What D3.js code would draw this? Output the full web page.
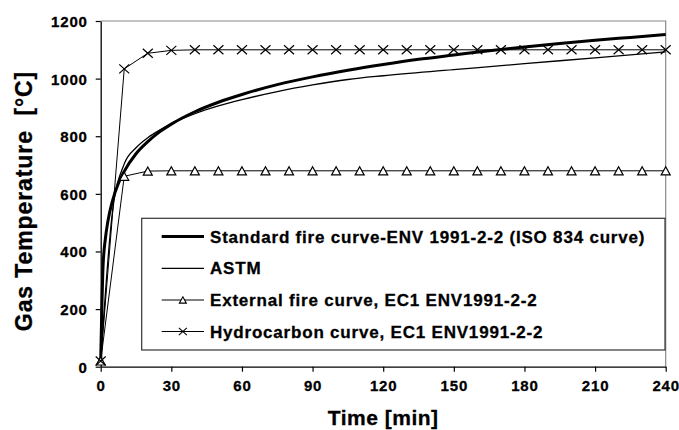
<!DOCTYPE html>
<html>
<head>
<meta charset="utf-8">
<script src="https://cdn.jsdelivr.net/npm/d3@7"></script>
<style>
  html, body { margin: 0; padding: 0; background: #fff; }
  svg { display: block; font-family: "Liberation Sans", Arial, sans-serif; font-weight: bold; }
  text { white-space: pre; }
</style>
</head>
<body>
<svg id="chart" width="679" height="430"></svg>
<script>
// ---- Data ----
const isoTime  = [0, 1, 2, 3, 5, 7.5, 10, 15, 20, 25, 30, 40, 50, 60, 75, 90, 105, 120, 135, 150, 165, 180, 195, 210, 225, 240];
const isoTemp  = [20, 349, 445, 502, 576, 636, 678, 739, 781, 815, 842, 885, 918, 945, 979, 1006, 1029, 1049, 1067, 1082, 1097, 1110, 1122, 1133, 1143, 1153];

const astmTime = [0, 5, 10, 15, 20, 25, 30, 40, 50, 60, 75, 90, 105, 120, 150, 180, 210, 240];
const astmTemp = [20, 538, 704, 760, 795, 821, 843, 878, 905, 927, 955, 978, 997, 1010, 1031, 1052, 1072, 1093];

const markTime = [0, 10, 20, 30, 40, 50, 60, 70, 80, 90, 100, 110, 120, 130, 140, 150, 160, 170, 180, 190, 200, 210, 220, 230, 240];
const extTemp  = [20, 661, 679, 680, 680, 680, 680, 680, 680, 680, 680, 680, 680, 680, 680, 680, 680, 680, 680, 680, 680, 680, 680, 680, 680];
const hydTemp  = [20, 1034, 1088, 1098, 1100, 1100, 1100, 1100, 1100, 1100, 1100, 1100, 1100, 1100, 1100, 1100, 1100, 1100, 1100, 1100, 1100, 1100, 1100, 1100, 1100];

const xTicks = [0, 30, 60, 90, 120, 150, 180, 210, 240];
const yTicks = [0, 200, 400, 600, 800, 1000, 1200];

const seriesNames = [
  "Standard fire curve-ENV 1991-2-2 (ISO 834 curve)",
  "ASTM",
  "External fire curve, EC1 ENV1991-2-2",
  "Hydrocarbon curve, EC1 ENV1991-2-2"
];
const xTitle = "Time [min]";
const yTitle = "Gas Temperature  [°C]";

// ---- Layout ----
const svg = d3.select("#chart");
const L = 100.7, R = 665.7, T = 21, B = 366.7;
const x = d3.scaleLinear().domain([0, 240]).range([L, R]);
const y = d3.scaleLinear().domain([0, 1200]).range([B, T]);

// plot border (top/right grey)
svg.append("path")
  .attr("d", `M${L},${T}H${R}V${B}`)
  .attr("fill", "none").attr("stroke", "#888").attr("stroke-width", 1.2);

// axes
const yAxis = svg.append("g").attr("transform", `translate(${L},0)`)
  .call(d3.axisLeft(y).tickValues(yTicks).tickFormat(d3.format("d")).tickSize(5).tickSizeOuter(0).tickPadding(8));
const xAxis = svg.append("g").attr("transform", `translate(0,${B})`)
  .call(d3.axisBottom(x).tickValues(xTicks).tickFormat(d3.format("d")).tickSize(5).tickSizeOuter(0).tickPadding(9));
[yAxis, xAxis].forEach(g => {
  g.select(".domain").attr("stroke", "#000").attr("stroke-width", 1.3);
  g.selectAll(".tick line").attr("stroke", "#000").attr("stroke-width", 1.2);
  g.selectAll(".tick text")
    .attr("fill", "#000")
    .attr("stroke", "#000").attr("stroke-width", 0.3)
    .style("font-size", "15px")
    .style("font-weight", "bold")
    .style("letter-spacing", "0.8px")
    .style("font-family", "'Liberation Sans', Arial, sans-serif");
});
yAxis.selectAll(".tick text").attr("dy", "0.36em");

// axis titles
svg.append("text")
  .attr("x", (L + R) / 2).attr("y", 425)
  .attr("text-anchor", "middle")
  .attr("stroke", "#000").attr("stroke-width", 0.3)
  .style("font-size", "21px").style("letter-spacing", "0.5px")
  .text(xTitle);
svg.append("text")
  .attr("transform", `translate(31.5,${201}) rotate(-90)`)
  .attr("text-anchor", "middle")
  .attr("stroke", "#000").attr("stroke-width", 0.3)
  .style("font-size", "23px").style("letter-spacing", "0.9px")
  .text(yTitle);

// ---- series ----
const lineGen = d3.line().x(d => x(d[0])).y(d => y(d[1]));
const smooth = d3.line().x(d => x(d[0])).y(d => y(d[1])).curve(d3.curveMonotoneX);

const plot = svg.append("g");

const hydPts = markTime.map((t, i) => [t, hydTemp[i]]);
const extPts = markTime.map((t, i) => [t, extTemp[i]]);
const astmPts = astmTime.map((t, i) => [t, astmTemp[i]]);
const isoPts = isoTime.map((t, i) => [t, isoTemp[i]]);

plot.append("path").attr("d", lineGen(hydPts))
  .attr("fill", "none").attr("stroke", "#000").attr("stroke-width", 1);
plot.append("path").attr("d", lineGen(extPts))
  .attr("fill", "none").attr("stroke", "#000").attr("stroke-width", 1);
plot.append("path").attr("d", smooth(astmPts))
  .attr("fill", "none").attr("stroke", "#000").attr("stroke-width", 1.3);
plot.append("path").attr("d", smooth(isoPts))
  .attr("fill", "none").attr("stroke", "#000").attr("stroke-width", 3);

function triPath(s) {
  const h = s * 0.9;
  return `M0,${-h / 2}L${s / 2},${h / 2}L${-s / 2},${h / 2}Z`;
}
function xPath(s) {
  const w = s / 2, h = s * 0.45;
  return `M${-w},${-h}L${w},${h}M${-w},${h}L${w},${-h}`;
}

plot.selectAll(".tri").data(extPts).enter().append("path")
  .attr("transform", d => `translate(${x(d[0])},${y(d[1])})`)
  .attr("d", triPath(9))
  .attr("fill", "#fff").attr("stroke", "#000").attr("stroke-width", 1.2);
plot.selectAll(".xm").data(hydPts).enter().append("path")
  .attr("transform", d => `translate(${x(d[0])},${y(d[1])})`)
  .attr("d", xPath(10))
  .attr("fill", "none").attr("stroke", "#000").attr("stroke-width", 1.2);

// ---- legend ----
const lg = svg.append("g");
lg.append("rect")
  .attr("x", 141.7).attr("y", 218.3).attr("width", 665 - 141.7).attr("height", 350 - 218.3)
  .attr("fill", "#fff").attr("stroke", "#333").attr("stroke-width", 1.2);

const rowY = [236.5, 268.3, 300, 331.5];
const sx0 = 161.7, sx1 = 204, tx = 210;
const widths = [3, 1.3, 1, 1];
seriesNames.forEach((name, i) => {
  const yy = rowY[i];
  lg.append("line").attr("x1", sx0).attr("x2", sx1).attr("y1", yy).attr("y2", yy)
    .attr("stroke", "#000").attr("stroke-width", widths[i]);
  if (i === 2) {
    lg.append("path").attr("transform", `translate(${(sx0 + sx1) / 2},${yy})`)
      .attr("d", triPath(7)).attr("fill", "#fff").attr("stroke", "#000").attr("stroke-width", 1.1);
  }
  if (i === 3) {
    lg.append("path").attr("transform", `translate(${(sx0 + sx1) / 2},${yy})`)
      .attr("d", xPath(8)).attr("fill", "none").attr("stroke", "#000").attr("stroke-width", 1.1);
  }
  lg.append("text").attr("x", tx).attr("y", yy).attr("dy", "0.36em")
    .attr("stroke", "#000").attr("stroke-width", 0.3)
    .style("font-size", "17px").style("letter-spacing", "0.8px")
    .text(name);
});
</script>
</body>
</html>
